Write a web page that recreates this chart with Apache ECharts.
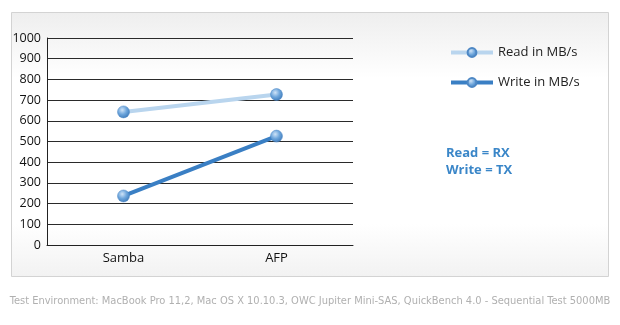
<!DOCTYPE html>
<html><head><meta charset="utf-8">
<script src="https://cdn.jsdelivr.net/npm/echarts@6/dist/echarts.min.js"></script>
<style>html,body{margin:0;padding:0;background:#fff}#c{width:620px;height:325px}</style>
</head><body><div id="c"></div>
<script>
const categories = ['Samba', 'AFP'];
const readValues = [643, 727];
const writeValues = [237, 526];
const yTicks = [0, 100, 200, 300, 400, 500, 600, 700, 800, 900, 1000];
const seriesNames = ['Read in MB/s', 'Write in MB/s'];
const noteLines = ['Read = RX', 'Write = TX'];
const footer = 'Test Environment: MacBook Pro 11,2, Mac OS X 10.10.3, OWC Jupiter Mini-SAS, QuickBench 4.0 - Sequential Test 5000MB';

const chart = echarts.init(document.getElementById('c'), null, {renderer: 'canvas'});
const ball = {type: 'radial', x: 0.4, y: 0.35, r: 0.7, colorStops: [{offset: 0, color: '#cfe3f7'}, {offset: 0.5, color: '#6ea6dc'}, {offset: 1, color: '#3b78b8'}]};
const font = '"Open Sans", "DejaVu Sans", sans-serif';
chart.setOption({
  animation: false,
  textStyle: {fontFamily: font},
  graphic: [
    {type: 'rect', z: -10, shape: {x: 11.5, y: 12.5, width: 597, height: 264},
     style: {fill: {type: 'linear', x: 0, y: 0, x2: 0, y2: 1, colorStops: [{offset: 0, color: '#eeeeee'}, {offset: 0.25, color: '#ffffff'}, {offset: 0.8, color: '#ffffff'}, {offset: 1, color: '#f2f2f2'}]}, stroke: '#d3d3d3', lineWidth: 1}},
    {type: 'text', left: 446, top: 145, style: {text: noteLines.join('\n'), fill: '#3a86c8', font: 'bold 13px ' + font, lineHeight: 17}},
    {type: 'text', left: 'center', top: 296, style: {text: footer, fill: '#b0b0b0', font: '11px "Liberation Sans Narrow", "DejaVu Sans Condensed", sans-serif'}}
  ],
  grid: {left: 47, right: 267, top: 38, bottom: 80, containLabel: false},
  legend: {
    orient: 'vertical', left: 444, top: 41, itemGap: 17, itemWidth: 42, itemHeight: 11,
    textStyle: {fontSize: 13, color: '#222', fontFamily: font},
    lineStyle: {width: 4},
    data: seriesNames
  },
  xAxis: {
    type: 'category', data: categories, boundaryGap: true,
    axisLine: {lineStyle: {color: '#222', width: 1}},
    axisTick: {inside: true, length: 6, lineStyle: {color: '#222'}},
    axisLabel: {color: '#111', fontSize: 13, margin: 7}
  },
  yAxis: {
    type: 'value', min: yTicks[0], max: yTicks[yTicks.length - 1], interval: 100,
    axisLine: {show: true, lineStyle: {color: '#222'}},
    axisTick: {show: false},
    axisLabel: {color: '#111', fontSize: 12.5, margin: 6, formatter: v => String(v)},
    splitLine: {lineStyle: {color: '#2a2a2a', width: 1}}
  },
  series: [
    {name: seriesNames[0], type: 'line', data: readValues, symbol: 'circle', symbolSize: 12,
     lineStyle: {color: '#b9d5ee', width: 4}, itemStyle: {color: ball, borderColor: '#4d87c4', borderWidth: 0.5}, z: 3},
    {name: seriesNames[1], type: 'line', data: writeValues, symbol: 'circle', symbolSize: 12,
     lineStyle: {color: '#3a7fc4', width: 4}, itemStyle: {color: ball, borderColor: '#4d87c4', borderWidth: 0.5}, z: 3}
  ]
});
</script></body></html>
